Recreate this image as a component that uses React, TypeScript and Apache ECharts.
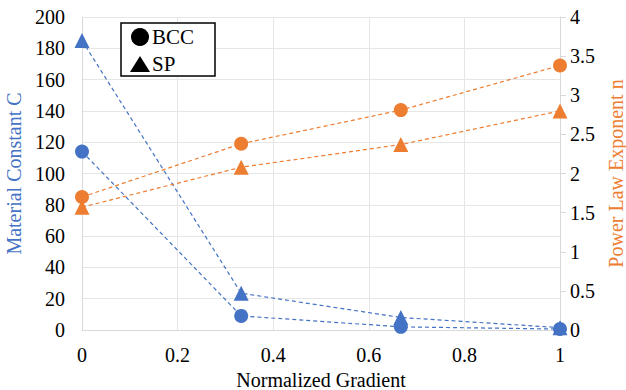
import React, { useEffect, useRef } from "react";
import * as echarts from "echarts";

const xValues = [0, 0.333, 0.667, 1];
const bccC = [114, 9, 2, 0.6];
const spC = [185, 23.5, 8, 1.5];
const bccN = [1.7, 2.38, 2.81, 3.38];
const spN = [1.57, 2.08, 2.37, 2.8];
const legendNames = ["BCC", "SP"];

const BLUE = "#4472C4";
const ORANGE = "#ED7D31";
const FONT = "Times New Roman";

const pairs = (ys: number[]) => xValues.map((x, i) => [x, ys[i]]);

export default function App() {
  const ref = useRef<HTMLDivElement>(null);
  useEffect(() => {
    if (!ref.current) return;
    const chart = echarts.init(ref.current, undefined, { renderer: "svg" });
    const lineSeries = (data: number[], color: string, symbol: string, yAxisIndex: number, symbolSize: number) => ({
      type: "line",
      yAxisIndex,
      data: pairs(data),
      symbol,
      symbolSize,
      showAllSymbol: true,
      lineStyle: { color, width: 1.2, type: [4, 3] },
      itemStyle: { color },
      z: 3,
    });
    chart.setOption({
      animation: false,
      grid: { left: 82, right: 66, top: 17, bottom: 60, outerBoundsMode: "none", containLabel: false },
      graphic: [
        { type: "rect", shape: { x: 121, y: 23, width: 94, height: 53 }, style: { fill: "#fff", stroke: "#000", lineWidth: 1.5 }, z: 10 },
        { type: "circle", shape: { cx: 140, cy: 37, r: 9 }, style: { fill: "#000" }, z: 11 },
        { type: "text", x: 152, y: 37, style: { text: legendNames[0], fontFamily: FONT, fontSize: 21, fill: "#000", verticalAlign: "middle" }, z: 11 },
        { type: "polygon", shape: { points: [[130, 72], [150, 72], [140, 56]] }, style: { fill: "#000" }, z: 11 },
        { type: "text", x: 152, y: 64, style: { text: legendNames[1], fontFamily: FONT, fontSize: 21, fill: "#000", verticalAlign: "middle" }, z: 11 },
      ],
      xAxis: {
        type: "value",
        min: 0,
        max: 1,
        interval: 0.2,
        name: "Normalized Gradient",
        nameLocation: "middle",
        nameGap: 33,
        nameTextStyle: { fontFamily: FONT, fontSize: 20, color: "#000" },
        axisLine: { show: true, lineStyle: { color: "#d9d9d9" } },
        axisTick: { show: false },
        axisLabel: { fontFamily: FONT, fontSize: 20, color: "#000", margin: 15 },
        splitLine: { show: true, lineStyle: { color: "#e6e6e6" } },
      },
      yAxis: [
        {
          type: "value",
          min: 0,
          max: 200,
          interval: 20,
          name: "Material Constant C",
          nameLocation: "middle",
          nameGap: 58,
          nameTextStyle: { fontFamily: FONT, fontSize: 20, color: BLUE },
          axisLine: { show: true, lineStyle: { color: "#d9d9d9" } },
          axisTick: { show: false },
          axisLabel: { fontFamily: FONT, fontSize: 20, color: "#000", margin: 17 },
          splitLine: { show: true, lineStyle: { color: "#e6e6e6" } },
        },
        {
          type: "value",
          min: 0,
          max: 4,
          interval: 0.5,
          position: "right",
          name: "Power Law Exponent n",
          nameLocation: "middle",
          nameGap: 44,
          nameTextStyle: { fontFamily: FONT, fontSize: 20, color: ORANGE },
          axisLine: { show: true, lineStyle: { color: "#d9d9d9" } },
          axisTick: { show: true, length: 6, lineStyle: { color: "#d9d9d9" } },
          axisLabel: { fontFamily: FONT, fontSize: 20, color: "#000", margin: 10 },
          splitLine: { show: false },
        },
      ],
      series: [
        lineSeries(bccC, BLUE, "circle", 0, 14),
        lineSeries(spC, BLUE, "triangle", 0, 15),
        lineSeries(bccN, ORANGE, "circle", 1, 14),
        lineSeries(spN, ORANGE, "triangle", 1, 15),
      ],
    });
    return () => chart.dispose();
  }, []);
  return (
    <>
      <style>{"#root svg text { font-family: 'Times New Roman', 'Liberation Serif', serif !important; }"}</style>
      <div ref={ref} style={{ position: "absolute", left: 0, top: 0, width: 626, height: 390 }} />
    </>
  );
}
